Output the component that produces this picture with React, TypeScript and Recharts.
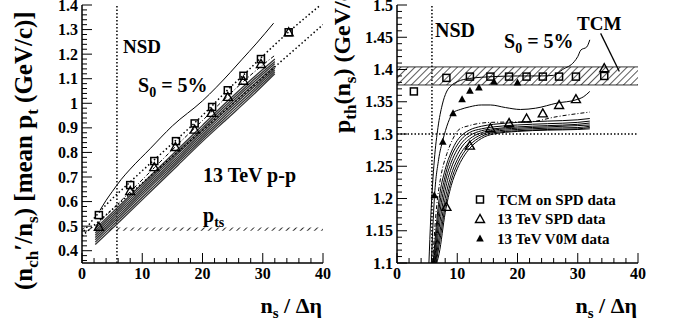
import { ComposedChart, Line, Scatter, XAxis, YAxis, ReferenceLine, ReferenceArea } from 'recharts'

const SERIF = '"Liberation Serif", "Times New Roman", Times, serif'

// ---------- left panel: (n_ch'/n_s) [mean p_t] ----------
const tcmMeanX = [2.8, 8, 12, 15.6, 18.7, 21.6, 24.2, 26.8, 29.7, 34.3]
const tcmMeanY = [0.545, 0.667, 0.765, 0.846, 0.918, 0.985, 1.053, 1.112, 1.18, 1.289]
const spdMeanX = [2.8, 8, 12, 15.5, 18.7, 21.5, 24.2, 26.8, 29.7, 34.3]
const spdMeanY = [0.497, 0.643, 0.74, 0.822, 0.893, 0.961, 1.026, 1.092, 1.16, 1.289]

// S0 = 5% curve
const s0MeanX = [3, 4, 5, 6.5, 8, 11.3, 15, 20, 24.6, 26.5, 29, 31.8]
const s0MeanY = [0.565, 0.605, 0.64, 0.69, 0.732, 0.815, 0.908, 1.01, 1.125, 1.177, 1.245, 1.326]

// dotted guide lines
const dotUpX = [0.3, 2.8, 8, 12, 15.6, 18.7, 21.6, 24.2, 26.8, 29.7, 34.3, 39.6]
const dotUpY = [0.48, 0.555, 0.68, 0.77, 0.85, 0.92, 0.99, 1.055, 1.115, 1.185, 1.29, 1.4]
const dotLowX = [0, 40]
const dotLowY = [0.46, 1.32]

// dashed curve through SPD points
const dashMeanX = [2.2, 5, 8, 12, 16, 20, 24, 28, 32]
const dashMeanY = [0.5, 0.568, 0.64, 0.738, 0.835, 0.93, 1.025, 1.115, 1.195]

// bundle of model curves
const bundleMeanX = [2.2, 5, 8, 12, 16, 20, 24, 28, 32]
const bundleMean1 = [0.49, 0.555, 0.625, 0.72, 0.815, 0.91, 1.005, 1.095, 1.18]
const bundleMean2 = [0.481, 0.546, 0.616, 0.711, 0.806, 0.9, 0.995, 1.085, 1.17]
const bundleMean3 = [0.472, 0.537, 0.607, 0.702, 0.797, 0.891, 0.985, 1.075, 1.161]
const bundleMean4 = [0.463, 0.528, 0.598, 0.693, 0.787, 0.881, 0.975, 1.065, 1.152]
const bundleMean5 = [0.454, 0.519, 0.589, 0.684, 0.778, 0.872, 0.965, 1.055, 1.144]
const bundleMean6 = [0.445, 0.51, 0.58, 0.675, 0.769, 0.863, 0.955, 1.045, 1.136]
const bundleMean7 = [0.435, 0.5, 0.57, 0.665, 0.76, 0.854, 0.945, 1.035, 1.128]
const bundleMean8 = [0.425, 0.49, 0.56, 0.655, 0.75, 0.845, 0.935, 1.025, 1.12]

// ---------- right panel: p_th(n_s) ----------
const tcmPthX = [2.8, 8.2, 12.1, 15.5, 18.6, 21.5, 24.2, 26.9, 29.7, 34.4]
const tcmPthY = [1.366, 1.387, 1.389, 1.389, 1.389, 1.389, 1.389, 1.389, 1.389, 1.39]
const spdPthX = [8.2, 12.1, 15.5, 18.6, 21.5, 24.2, 26.9, 29.7, 34.4]
const spdPthY = [1.187, 1.282, 1.309, 1.317, 1.324, 1.332, 1.345, 1.354, 1.402]
const v0mPthX = [6.2, 7.6, 9.3, 10.8, 12.1, 13.6, 16.1, 20.0]
const v0mPthY = [1.205, 1.288, 1.332, 1.354, 1.367, 1.372, 1.381, 1.38]

const s0PthX = [5.3, 5.6, 6.2, 6.8, 7.5, 8.2, 9, 10, 12, 16, 20, 24, 26, 27.5, 29.4, 30, 30.5, 31.5, 32]
const s0PthY = [1.1, 1.17, 1.26, 1.31, 1.345, 1.365, 1.375, 1.381, 1.386, 1.389, 1.39, 1.39, 1.391, 1.4, 1.412, 1.42, 1.43, 1.435, 1.446]
const midPthX = [5.7, 6.2, 6.9, 7.6, 8.5, 9.3, 10.5, 12, 14, 15.5, 18, 20.5, 23, 26.6, 29.7, 31, 32]
const midPthY = [1.1, 1.2, 1.26, 1.29, 1.318, 1.333, 1.338, 1.342, 1.345, 1.345, 1.341, 1.338, 1.34, 1.348, 1.353, 1.358, 1.366]
const dashPthX = [5.9, 6.5, 7.3, 8.3, 9.2, 10.3, 12, 15.5, 22, 26.6, 32]
const dashPthY = [1.1, 1.18, 1.235, 1.27, 1.291, 1.307, 1.313, 1.318, 1.319, 1.327, 1.334]

const bundlePthX = [7, 8, 9, 10, 11, 12, 14, 16, 20, 25, 30, 32]
const bundlePthStart = [6.0, 6.1, 6.2, 6.3, 6.4, 6.5, 6.6]
const bundlePth1 = [1.2, 1.245, 1.272, 1.29, 1.3, 1.306, 1.312, 1.315, 1.318, 1.32, 1.322, 1.324]
const bundlePth2 = [1.185, 1.235, 1.265, 1.283, 1.295, 1.302, 1.308, 1.311, 1.314, 1.316, 1.318, 1.32]
const bundlePth3 = [1.17, 1.225, 1.256, 1.276, 1.289, 1.297, 1.305, 1.308, 1.311, 1.313, 1.315, 1.317]
const bundlePth4 = [1.155, 1.213, 1.247, 1.268, 1.283, 1.292, 1.302, 1.306, 1.309, 1.311, 1.313, 1.314]
const bundlePth5 = [1.14, 1.2, 1.237, 1.26, 1.276, 1.287, 1.299, 1.304, 1.307, 1.309, 1.31, 1.312]
const bundlePth6 = [1.128, 1.188, 1.228, 1.253, 1.27, 1.282, 1.296, 1.302, 1.305, 1.307, 1.308, 1.31]
const bundlePth7 = [1.115, 1.178, 1.22, 1.246, 1.264, 1.277, 1.293, 1.3, 1.304, 1.306, 1.307, 1.308]

const NSD_X = 5.8
const PTS_BAND = [0.481, 0.494]
const TCM_BAND = [1.376, 1.404]

const zip = (xs: number[], ys: number[]) => xs.map((x, i) => ({ x, y: ys[i] }))

const range = (from: number, to: number, step: number) => {
  const out: number[] = []
  for (let v = from; v <= to + step / 2; v += step) out.push(Math.round(v * 1000) / 1000)
  return out
}

const xTicks = range(0, 40, 2)
const leftYTicks = range(0.36, 1.4, 0.02)
const rightYTicks = range(1.1, 1.5, 0.01)

type Side = 'left' | 'right' | 'top' | 'bottom'

function axisTick(side: Side, step: number, fmt?: (v: number) => string) {
  return (p: any) => {
    const v = Number(p.payload.value)
    const major = Math.abs(v / step - Math.round(v / step)) < 1e-6
    const len = major ? 10 : 5
    const { x, y } = p
    const seg =
      side === 'left' ? [x, y, x + len, y]
        : side === 'right' ? [x, y, x - len, y]
          : side === 'top' ? [x, y, x, y + len]
            : [x, y, x, y - len]
    return (
      <g>
        <line x1={seg[0]} y1={seg[1]} x2={seg[2]} y2={seg[3]} stroke="#000" strokeWidth={1} />
        {fmt && major && (side === 'left'
          ? <text x={x - 4} y={y + 5.5} textAnchor="end" fontFamily={SERIF} fontWeight="bold" fontSize={16} fill="#000">{fmt(v)}</text>
          : <text x={x} y={y + 16} textAnchor="middle" fontFamily={SERIF} fontWeight="bold" fontSize={16} fill="#000">{fmt(v)}</text>)}
      </g>
    )
  }
}

const fmt1 = (v: number) => String(Math.round(v * 10) / 10)
const fmt2 = (v: number) => String(Math.round(v * 100) / 100)
const fmtX = (v: number) => String(Math.round(v))

const OpenSquare = (p: any) => (
  <rect x={p.cx - 3.5} y={p.cy - 3.5} width={7} height={7} fill="none" stroke="#000" strokeWidth={1.5} />
)
const OpenTriangle = (p: any) => (
  <polygon points={`${p.cx},${p.cy - 4.5} ${p.cx - 4.5},${p.cy + 3.5} ${p.cx + 4.5},${p.cy + 3.5}`}
    fill="none" stroke="#000" strokeWidth={1.4} />
)
const FilledTriangle = (p: any) => (
  <polygon points={`${p.cx},${p.cy - 4} ${p.cx - 3.8},${p.cy + 3} ${p.cx + 3.8},${p.cy + 3}`} fill="#000" />
)

const frame = { stroke: '#000', strokeWidth: 1.5 }

const curve = (key: string, data: { x: number; y: number }[], extra: any = {}) => (
  <Line key={key} data={data} dataKey="y" type="monotone" dot={false} stroke="#000" strokeWidth={1}
    isAnimationActive={false} {...extra} />
)

function LeftPanel() {
  const bundles = [bundleMean1, bundleMean2, bundleMean3, bundleMean4, bundleMean5, bundleMean6, bundleMean7, bundleMean8]
  return (
    <ComposedChart width={340} height={322} margin={{ top: 5, right: 17, bottom: 29, left: 32 }}>
      <defs>
        <pattern id="hatchL" width="5" height="5" patternUnits="userSpaceOnUse" patternTransform="rotate(45)">
          <line x1="0" y1="0" x2="0" y2="5" stroke="#000" strokeWidth="1.6" />
        </pattern>
      </defs>
      <XAxis dataKey="x" type="number" domain={[0, 40]} ticks={xTicks} interval={0} allowDataOverflow
        height={30} tickSize={0} tickMargin={0} tickLine={false} axisLine={frame} tick={axisTick('bottom', 10, fmtX)} />
      <XAxis xAxisId="top" orientation="top" type="number" domain={[0, 40]} ticks={xTicks} interval={0}
        height={0} tickSize={0} tickMargin={0} tickLine={false} axisLine={frame} tick={axisTick('top', 10)} />
      <YAxis dataKey="y" type="number" domain={[0.35, 1.4]} ticks={leftYTicks} interval={0} allowDataOverflow
        width={50} tickSize={0} tickMargin={0} tickLine={false} axisLine={frame} tick={axisTick('left', 0.1, fmt1)} />
      <YAxis yAxisId="right" orientation="right" type="number" domain={[0.35, 1.4]} ticks={leftYTicks} interval={0}
        width={0} tickSize={0} tickMargin={0} tickLine={false} axisLine={frame} tick={axisTick('right', 0.1)} />

      <ReferenceArea y1={PTS_BAND[0]} y2={PTS_BAND[1]} fill="url(#hatchL)" fillOpacity={1} stroke="none" />
      <ReferenceLine x={NSD_X} stroke="#000" strokeWidth={1.5} strokeDasharray="1.5 2" />

      {bundles.map((b, i) => curve(`bm${i}`, zip(bundleMeanX, b), { stroke: '#333', strokeWidth: 1.3 }))}
      {curve('dotLow', zip(dotLowX, dotLowY), { type: 'linear', strokeWidth: 1.5, strokeDasharray: '1.5 2.5' })}
      {curve('dotUp', zip(dotUpX, dotUpY), { strokeWidth: 1.5, strokeDasharray: '1.5 2.5' })}
      {curve('dashMean', zip(dashMeanX, dashMeanY), { strokeDasharray: '4 2 1 2' })}
      {curve('s0Mean', zip(s0MeanX, s0MeanY))}

      <Scatter data={zip(spdMeanX, spdMeanY)} shape={OpenTriangle} isAnimationActive={false} />
      <Scatter data={zip(tcmMeanX, tcmMeanY)} shape={OpenSquare} isAnimationActive={false} />
    </ComposedChart>
  )
}

function RightPanel() {
  const bundles = [bundlePth1, bundlePth2, bundlePth3, bundlePth4, bundlePth5, bundlePth6, bundlePth7]
  return (
    <ComposedChart width={335} height={322} margin={{ top: 5, right: 37, bottom: 29, left: 7 }}>
      <defs>
        <pattern id="hatchR" width="5" height="5" patternUnits="userSpaceOnUse" patternTransform="rotate(45)">
          <line x1="0" y1="0" x2="0" y2="5" stroke="#000" strokeWidth="1.3" />
        </pattern>
      </defs>
      <XAxis dataKey="x" type="number" domain={[0, 40]} ticks={xTicks} interval={0} allowDataOverflow
        height={30} tickSize={0} tickMargin={0} tickLine={false} axisLine={frame} tick={axisTick('bottom', 10, fmtX)} />
      <XAxis xAxisId="top" orientation="top" type="number" domain={[0, 40]} ticks={xTicks} interval={0}
        height={0} tickSize={0} tickMargin={0} tickLine={false} axisLine={frame} tick={axisTick('top', 10)} />
      <YAxis dataKey="y" type="number" domain={[1.1, 1.5]} ticks={rightYTicks} interval={0} allowDataOverflow
        width={50} tickSize={0} tickMargin={0} tickLine={false} axisLine={frame} tick={axisTick('left', 0.05, fmt2)} />
      <YAxis yAxisId="right" orientation="right" type="number" domain={[1.1, 1.5]} ticks={rightYTicks} interval={0}
        width={0} tickSize={0} tickMargin={0} tickLine={false} axisLine={frame} tick={axisTick('right', 0.05)} />

      <ReferenceArea y1={TCM_BAND[0]} y2={TCM_BAND[1]} fill="url(#hatchR)" fillOpacity={1} stroke="none" />
      <ReferenceLine y={TCM_BAND[0]} stroke="#000" strokeWidth={0.8} />
      <ReferenceLine y={TCM_BAND[1]} stroke="#000" strokeWidth={0.8} />
      <ReferenceLine y={1.3} stroke="#000" strokeWidth={1.5} strokeDasharray="1.5 2" />
      <ReferenceLine x={NSD_X} stroke="#000" strokeWidth={1.5} strokeDasharray="1.5 2" />
      <ReferenceLine segment={[{ x: 33.8, y: 1.456 }, { x: 36.9, y: 1.397 }]} stroke="#000" strokeWidth={1.3} />

      {bundles.map((b, i) => curve(`bp${i}`, zip([bundlePthStart[i], ...bundlePthX], [1.1, ...b]), { strokeWidth: 1 }))}
      {curve('dashPth', zip(dashPthX, dashPthY), { strokeDasharray: '4 2 1 2' })}
      {curve('midPth', zip(midPthX, midPthY))}
      {curve('s0Pth', zip(s0PthX, s0PthY))}

      <Scatter data={zip(spdPthX, spdPthY)} shape={OpenTriangle} isAnimationActive={false} />
      <Scatter data={zip(v0mPthX, v0mPthY)} shape={FilledTriangle} isAnimationActive={false} />
      <Scatter data={zip(tcmPthX, tcmPthY)} shape={OpenSquare} isAnimationActive={false} />
    </ComposedChart>
  )
}

const T = { fontFamily: SERIF, fontWeight: 'bold' as const, fill: '#000' }

function Overlay() {
  return (
    <svg width={675} height={322} style={{ position: 'absolute', left: 0, top: 0, pointerEvents: 'none' }}>
      {/* left panel */}
      <text x={32} y={290} transform="rotate(-90 32 290)" fontSize={25} {...T}>
        (n<tspan fontSize={17} dy={6}>ch</tspan><tspan dy={-6}>′/n</tspan><tspan fontSize={17} dy={6}>s</tspan>
        <tspan dy={-6}>) [mean p</tspan><tspan fontSize={17} dy={6}>t</tspan><tspan dy={-6}> (GeV/c)]</tspan>
      </text>
      <text x={123} y={53} fontSize={19} {...T}>NSD</text>
      <text x={138} y={92} fontSize={20} {...T}>S<tspan fontSize={14} dy={5}>0</tspan><tspan dy={-5}> = 5%</tspan></text>
      <text x={203} y={182} fontSize={20} {...T}>13 TeV p-p</text>
      <text x={203} y={222} fontSize={20} {...T}>p<tspan fontSize={14} dy={5}>ts</tspan></text>
      <text x={322} y={313} textAnchor="end" fontSize={22} {...T}>n<tspan fontSize={15} dy={5}>s</tspan><tspan dy={-5}> / Δη</tspan></text>

      {/* right panel */}
      <text x={350} y={133} transform="rotate(-90 350 133)" fontSize={24} {...T}>
        p<tspan fontSize={17} dy={6}>th</tspan><tspan dy={-6}>(n</tspan><tspan fontSize={17} dy={6}>s</tspan><tspan dy={-6}>) (GeV/c)</tspan>
      </text>
      <text x={435} y={37} fontSize={20} {...T}>NSD</text>
      <text x={504} y={48} fontSize={20} {...T}>S<tspan fontSize={14} dy={5}>0</tspan><tspan dy={-5}> = 5%</tspan></text>
      <text x={577} y={30} fontSize={19} {...T}>TCM</text>
      <text x={637} y={313} textAnchor="end" fontSize={22} {...T}>n<tspan fontSize={15} dy={5}>s</tspan><tspan dy={-5}> / Δη</tspan></text>

      {/* legend */}
      <OpenSquare cx={480} cy={199.5} />
      <OpenTriangle cx={480} cy={219} />
      <FilledTriangle cx={480} cy={238.5} />
      <text x={497} y={205} fontSize={15} {...T}>TCM on SPD data</text>
      <text x={497} y={224} fontSize={15} {...T}>13 TeV SPD data</text>
      <text x={497} y={243.5} fontSize={15} {...T}>13 TeV V0M data</text>
    </svg>
  )
}

export default function App() {
  return (
    <div style={{ position: 'absolute', left: 0, top: 0, width: 675, height: 322, background: '#fff', overflow: 'hidden' }}>
      <div style={{ position: 'absolute', left: 0, top: 0 }}><LeftPanel /></div>
      <div style={{ position: 'absolute', left: 340, top: 0 }}><RightPanel /></div>
      <Overlay />
    </div>
  )
}
